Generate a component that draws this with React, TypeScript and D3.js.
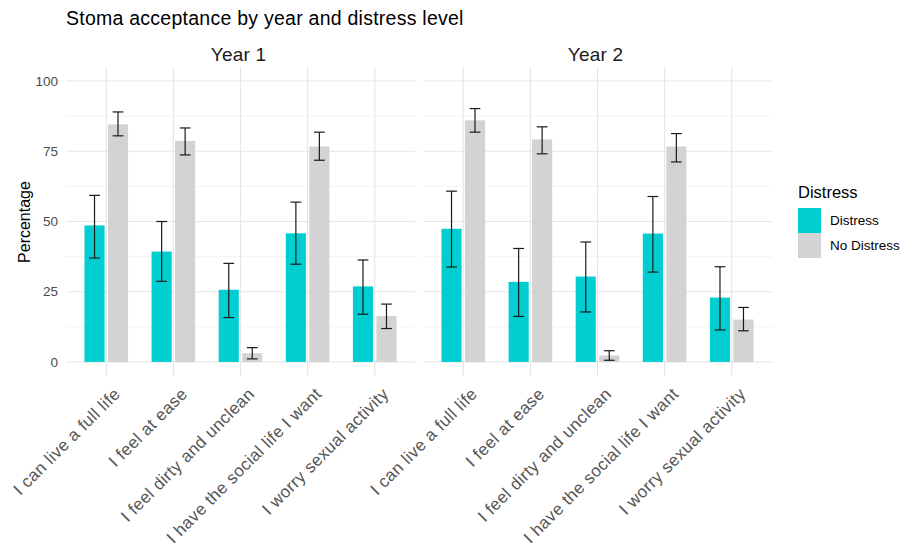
import React from "react";
import * as d3 from "d3";

// Survey items shown on the x axis of each panel
const categories = [
  "I can live a full life",
  "I feel at ease",
  "I feel dirty and unclean",
  "I have the social life I want",
  "I worry sexual activity",
];

const years = ["Year 1", "Year 2"];
const groups = ["Distress", "No Distress"];

// Percentages with lower / upper error limits
const year1Distress = [48.6, 39.3, 25.7, 45.8, 26.9];
const year1DistressLo = [37.0, 28.7, 15.8, 34.8, 17.0];
const year1DistressHi = [59.3, 50.0, 35.1, 56.9, 36.3];
const year1NoDistress = [84.6, 78.7, 3.1, 76.7, 16.4];
const year1NoDistressLo = [80.5, 73.7, 1.1, 71.8, 11.9];
const year1NoDistressHi = [89.0, 83.3, 5.1, 81.8, 20.6];

const year2Distress = [47.4, 28.5, 30.4, 45.7, 22.9];
const year2DistressLo = [33.8, 16.2, 17.8, 32.0, 11.4];
const year2DistressHi = [60.8, 40.4, 42.7, 58.9, 33.9];
const year2NoDistress = [86.0, 79.2, 2.3, 76.7, 15.1];
const year2NoDistressLo = [81.8, 74.1, 0.6, 71.2, 11.1];
const year2NoDistressHi = [90.2, 83.7, 4.0, 81.3, 19.4];

const yTicks = [0, 25, 50, 75, 100];
const yMinor = [12.5, 37.5, 62.5, 87.5];

const colors: Record<string, string> = {
  Distress: "#00CED1",
  "No Distress": "#D3D3D3",
};

type Row = { cat: number; group: string; value: number; lo: number; hi: number };

function rows(d: number[], dLo: number[], dHi: number[], n: number[], nLo: number[], nHi: number[]): Row[] {
  const out: Row[] = [];
  categories.forEach((_, i) => {
    out.push({ cat: i, group: "Distress", value: d[i], lo: dLo[i], hi: dHi[i] });
    out.push({ cat: i, group: "No Distress", value: n[i], lo: nLo[i], hi: nHi[i] });
  });
  return out;
}

const panelData: Row[][] = [
  rows(year1Distress, year1DistressLo, year1DistressHi, year1NoDistress, year1NoDistressLo, year1NoDistressHi),
  rows(year2Distress, year2DistressLo, year2DistressHi, year2NoDistress, year2NoDistressLo, year2NoDistressHi),
];

const W = 911;
const H = 546;
const FONT = "'Liberation Sans', Arial, sans-serif";

const panelTop = 67;
const panelBottom = 376;
const panelLefts = [66, 423];
const panelWidth = 349;

const y = d3.scaleLinear().domain([-5, 105]).range([panelBottom, panelTop]);

const barWidth = 0.6 / 2; // in category units
const dodge = 0.7;
const capWidth = 0.16;

function Panel({ idx }: { idx: number }) {
  const left = panelLefts[idx];
  const x = d3.scaleLinear().domain([0.4, 5.6]).range([left, left + panelWidth]);
  const unit = x(1) - x(0);
  const data = panelData[idx];
  const offset = (g: string) => (g === "Distress" ? -dodge / 4 : dodge / 4);
  return (
    <g>
      {yMinor.map((t) => (
        <line key={"m" + t} x1={left} x2={left + panelWidth} y1={y(t)} y2={y(t)} stroke="#ebebeb" strokeWidth={0.6} />
      ))}
      {yTicks.map((t) => (
        <line key={"M" + t} x1={left} x2={left + panelWidth} y1={y(t)} y2={y(t)} stroke="#e6e6e6" strokeWidth={1.1} />
      ))}
      {categories.map((c, i) => (
        <line key={c} x1={x(i + 1)} x2={x(i + 1)} y1={panelTop} y2={panelBottom} stroke="#e6e6e6" strokeWidth={1.1} />
      ))}
      {data.map((r) => {
        const cx = x(r.cat + 1 + offset(r.group));
        return (
          <rect
            key={r.cat + r.group}
            x={cx - (barWidth * unit) / 2}
            width={barWidth * unit}
            y={y(r.value)}
            height={y(0) - y(r.value)}
            fill={colors[r.group]}
          />
        );
      })}
      {data.map((r) => {
        const cx = x(r.cat + 1 + offset(r.group));
        const hw = (capWidth * unit) / 2;
        return (
          <g key={"e" + r.cat + r.group} stroke="#1a1a1a" strokeWidth={1.2}>
            <line x1={cx} x2={cx} y1={y(r.lo)} y2={y(r.hi)} />
            <line x1={cx - hw} x2={cx + hw} y1={y(r.lo)} y2={y(r.lo)} />
            <line x1={cx - hw} x2={cx + hw} y1={y(r.hi)} y2={y(r.hi)} />
          </g>
        );
      })}
      <text x={left + panelWidth / 2 - 2} y={61} textAnchor="middle" fontSize={19} letterSpacing={0.2} fill="#1a1a1a" fontFamily={FONT}>
        {years[idx]}
      </text>
      {categories.map((c, i) => {
        const tx = x(i + 1) + 15;
        const ty = y(0) + 33;
        return (
          <text
            key={"l" + c}
            x={tx}
            y={ty}
            textAnchor="end"
            transform={`rotate(-45 ${tx} ${ty})`}
            fontSize={17}
            letterSpacing={0.4}
            fill="#555555"
            fontFamily={FONT}
          >
            {c}
          </text>
        );
      })}
    </g>
  );
}

export default function App() {
  return (
    <svg
      width={W}
      height={H}
      style={{ position: "absolute", left: 0, top: 0, background: "#ffffff" }}
      fontFamily={FONT}
    >
      <rect width={W} height={H} fill="#ffffff" />
      <text x={66} y={25} fontSize={19.5} letterSpacing={0.25} fill="#000000">
        Stoma acceptance by year and distress level
      </text>
      {yTicks.map((t) => (
        <text key={t} x={58} y={y(t)} dy="0.35em" textAnchor="end" fontSize={13.5} fill="#4d4d4d">
          {t}
        </text>
      ))}
      <text
        x={30}
        y={222}
        textAnchor="middle"
        transform="rotate(-90 30 222)"
        fontSize={16}
        fill="#000000"
      >
        Percentage
      </text>
      {years.map((_, i) => (
        <Panel key={i} idx={i} />
      ))}
      <g>
        <text x={798} y={198} fontSize={16.5} fill="#000000">
          Distress
        </text>
        {groups.map((g, i) => (
          <g key={g}>
            <rect x={798} y={208 + i * 25} width={23} height={25} fill={colors[g]} />
            <text x={830} y={220.5 + i * 25} dy="0.35em" fontSize={13.5} fill="#000000">
              {g}
            </text>
          </g>
        ))}
      </g>
    </svg>
  );
}
